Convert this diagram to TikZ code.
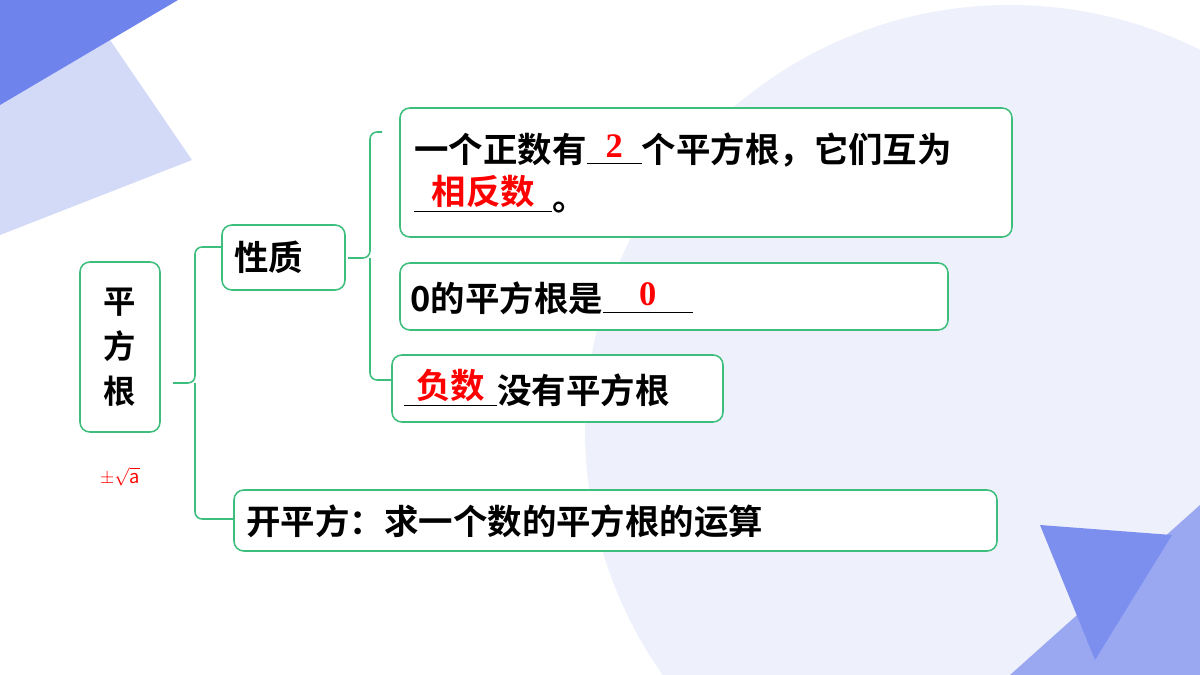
\documentclass[tikz,border=0pt]{standalone}
\usepackage{fontspec}
\setmainfont{Noto Sans CJK SC}[BoldFont={* Bold}]
\newfontfamily\serifnum{Liberation Serif}
\definecolor{boxgreen}{HTML}{3DBE7C}
\definecolor{ansred}{HTML}{FF0000}
\definecolor{bgcircle}{HTML}{EEF1FB}
\definecolor{darktri}{HTML}{6F83EC}
\definecolor{lighttri}{HTML}{D3DAF8}
\definecolor{midtri}{HTML}{9AA8F2}
\tikzset{
    green-box/.style = {draw=boxgreen, line width=2.2pt, rounded corners=14pt, fill=white},
    box-text/.style = {anchor=west, font=\fontsize{49}{68}\selectfont\bfseries, align=left},
    brace-line/.style = {draw=boxgreen, line width=2.2pt, rounded corners=10pt},
}
\newcommand{\blank}[2]{\underline{\makebox[#1]{\raisebox{0.3ex}{\color{ansred}#2}}}}
\begin{document}
\begin{tikzpicture}[x=0.05cm, y=-0.05cm]
\useasboundingbox (0,0) rectangle (1200,675);
% background
\begin{scope}
\clip (0,0) rectangle (1200,675);
\fill[bgcircle] (1010,430) circle (425);
\fill[lighttri] (0,35) -- (110,40) -- (192,160) -- (0,235) -- cycle;
\fill[darktri] (0,0) -- (178,0) -- (0,105) -- cycle;
\fill[midtri] (1010,675) -- (1200,505) -- (1200,675) -- cycle;
\fill[darktri!90] (1040,525) -- (1172,535) -- (1095,660) -- cycle;
\end{scope}
% boxes
\draw[green-box] (80,262) rectangle (160,432);
\node[font=\fontsize{46}{64}\selectfont\bfseries, align=center] (root) at (120,347) {平\\方\\根};
\node[text=ansred, font=\serifnum] (sqrt) at (120,477) {\scalebox{2.6}{$\pm\sqrt{\mathbf{\mathit{a}}}$}};
\draw[green-box] (222,225) rectangle (345,290);
\node[box-text] (prop) at (232,257) {性质};
\draw[green-box] (400,108) rectangle (1012,237);
\node[box-text] (pos) at (412,173) {一个正数有\blank{1.6em}{\serifnum 2}个平方根，它们互为\\\blank{4em}{相反数}。};
\draw[green-box] (400,263) rectangle (948,330);
\node[box-text] (zero) at (408,298) {0的平方根是\blank{2.6em}{\serifnum 0}};
\draw[green-box] (392,355) rectangle (723,422);
\node[box-text] (neg) at (402,388) {\blank{2.7em}{负数}没有平方根};
\draw[green-box] (234,490) rectangle (997,551);
\node[box-text] (op) at (244,521) {开平方：求一个数的平方根的运算};
% braces
\coordinate (b1) at (173,383);
\draw[brace-line] (222,247) -- (195,247) -- (195,383) -- (b1);
\draw[brace-line] (195,383) -- (195,519) -- (234,519);
\coordinate (b2) at (348,258);
\draw[brace-line] (382,132) -- (370,132) -- (370,258) -- (b2);
\draw[brace-line] (370,258) -- (370,380) -- (392,380);
\end{tikzpicture}
\end{document}
